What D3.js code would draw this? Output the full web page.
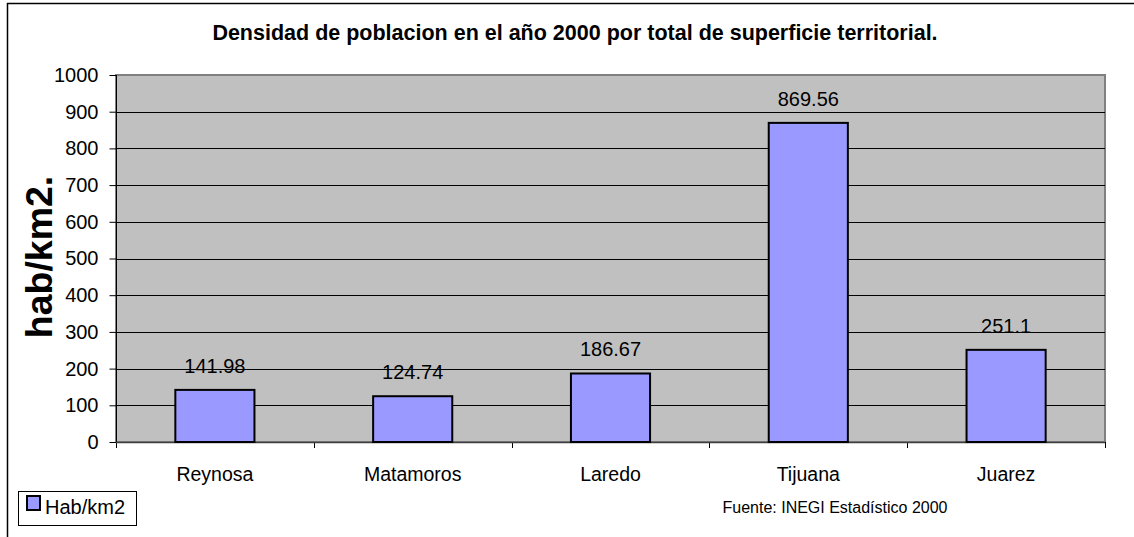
<!DOCTYPE html>
<html>
<head>
<meta charset="utf-8">
<script src="https://cdn.jsdelivr.net/npm/d3@7"></script>
<style>
  body { margin: 0; background: #fff; }
  svg text { font-family: "Liberation Sans", Arial, sans-serif; }
</style>
</head>
<body>
<svg id="chart" width="1134" height="537"></svg>
<script>
var cities = ["Reynosa", "Matamoros", "Laredo", "Tijuana", "Juarez"];
var density = [141.98, 124.74, 186.67, 869.56, 251.1];
var yTicks = [0, 100, 200, 300, 400, 500, 600, 700, 800, 900, 1000];

var M = { LEFT: 116, RIGHT: 1105, TOP: 75, BOTTOM: 442 };

var svg = d3.select("#chart");

// outer frame
svg.append("rect")
  .attr("x", 7.5).attr("y", 3.5)
  .attr("width", 1140).attr("height", 560)
  .attr("fill", "#fff").attr("stroke", "#000").attr("stroke-width", 1.5);

svg.append("text")
  .attr("x", 575).attr("y", 40)
  .attr("text-anchor", "middle")
  .attr("font-size", 21.5).attr("font-weight", "bold")
  .text("Densidad de poblacion en el año 2000 por total de superficie territorial.");

var x = d3.scaleBand()
  .domain(cities)
  .range([M.LEFT, M.RIGHT])
  .paddingInner(0.6).paddingOuter(0.3);

var y = d3.scaleLinear()
  .domain([0, 1000])
  .range([M.BOTTOM, M.TOP]);

// plot area
svg.append("rect")
  .attr("x", M.LEFT).attr("y", M.TOP)
  .attr("width", M.RIGHT - M.LEFT).attr("height", M.BOTTOM - M.TOP)
  .attr("fill", "#c0c0c0").attr("stroke", "#808080").attr("stroke-width", 2);

// gridlines
svg.append("g").selectAll("line")
  .data(yTicks.filter(function(d) { return d > 0 && d < 1000; }))
  .enter().append("line")
  .attr("x1", M.LEFT).attr("x2", M.RIGHT)
  .attr("y1", function(d) { return Math.round(y(d)) + 0.5; })
  .attr("y2", function(d) { return Math.round(y(d)) + 0.5; })
  .attr("stroke", "#000").attr("stroke-width", 1);

// y axis
var yAxis = d3.axisLeft(y).tickValues(yTicks).tickFormat(d3.format("d")).tickSize(7).tickPadding(11);
var gy = svg.append("g")
  .attr("transform", "translate(" + (M.LEFT + 0.5) + ",0)")
  .call(yAxis);
gy.selectAll("text").attr("font-size", 20).attr("fill", "#000")
  .style("font-family", "'Liberation Sans', Arial, sans-serif");
gy.selectAll("line").attr("stroke", "#000");
gy.select(".domain").attr("stroke", "#000").attr("d", "M0," + M.TOP + "V" + (M.BOTTOM + 6));

// x axis: ticks at category boundaries
var bounds = d3.range(cities.length + 1).map(function(i) { return M.LEFT + i * (M.RIGHT - M.LEFT) / cities.length; });
svg.append("g").selectAll("line")
  .data(bounds).enter().append("line")
  .attr("x1", function(d) { return Math.round(d) + 0.5; })
  .attr("x2", function(d) { return Math.round(d) + 0.5; })
  .attr("y1", M.BOTTOM).attr("y2", M.BOTTOM + 6)
  .attr("stroke", "#000");
svg.append("line")
  .attr("x1", M.LEFT).attr("x2", M.RIGHT)
  .attr("y1", M.BOTTOM + 0.5).attr("y2", M.BOTTOM + 0.5)
  .attr("stroke", "#404040").attr("stroke-width", 1.5);

svg.append("g").selectAll("text")
  .data(cities).enter().append("text")
  .attr("x", function(d) { return x(d) + x.bandwidth() / 2; })
  .attr("y", 481)
  .attr("text-anchor", "middle")
  .attr("font-size", 19.5)
  .text(function(d) { return d; });

// bars
var data = cities.map(function(c, i) { return { city: c, value: density[i] }; });
svg.append("g").selectAll("rect")
  .data(data).enter().append("rect")
  .attr("x", function(d) { return x(d.city); })
  .attr("y", function(d) { return y(d.value); })
  .attr("width", x.bandwidth())
  .attr("height", function(d) { return y(0) - y(d.value); })
  .attr("fill", "#9999ff").attr("stroke", "#000").attr("stroke-width", 2);

svg.append("g").selectAll("text")
  .data(data).enter().append("text")
  .attr("x", function(d) { return x(d.city) + x.bandwidth() / 2; })
  .attr("y", function(d) { return y(d.value) - 17; })
  .attr("text-anchor", "middle")
  .attr("font-size", 20)
  .text(function(d) { return d.value; });

// y axis title
svg.append("text")
  .attr("transform", "translate(52,257) rotate(-90)")
  .attr("text-anchor", "middle")
  .attr("font-size", 37.5).attr("font-weight", "bold")
  .text("hab/km2.");

// legend
var leg = svg.append("g");
leg.append("rect")
  .attr("x", 18.5).attr("y", 491.5).attr("width", 118).attr("height", 34)
  .attr("fill", "#fff").attr("stroke", "#000");
leg.append("rect")
  .attr("x", 27).attr("y", 496).attr("width", 13).attr("height", 14)
  .attr("fill", "#9999ff").attr("stroke", "#000").attr("stroke-width", 2);
leg.append("text")
  .attr("x", 45).attr("y", 514)
  .attr("font-size", 20)
  .text("Hab/km2");

svg.append("text")
  .attr("x", 835).attr("y", 513)
  .attr("text-anchor", "middle")
  .attr("font-size", 16)
  .text("Fuente: INEGI Estadístico 2000");
</script>
</body>
</html>
